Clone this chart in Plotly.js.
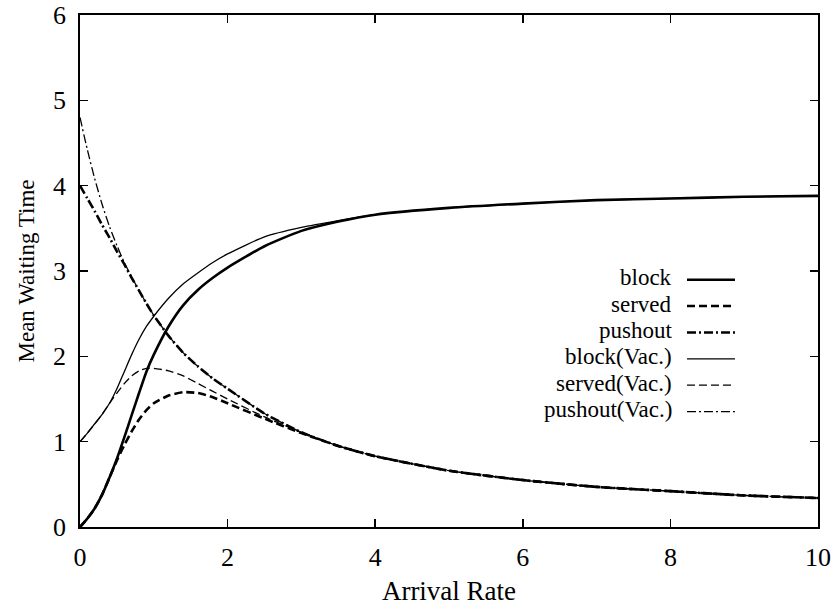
<!DOCTYPE html>
<html>
<head>
<meta charset="utf-8">
<script src="https://cdn.plot.ly/plotly-3.0.1.min.js"></script>
<style>html,body{margin:0;padding:0;background:#fff;}#chart{width:837px;height:611px;}</style>
</head>
<body>
<div id="chart"></div>
<script>
const arrivalRate = [0, 0.1, 0.2, 0.3, 0.4, 0.5, 0.6, 0.7, 0.8, 0.9, 1.0, 1.2, 1.4, 1.6, 1.8, 2.0, 2.5, 3.0, 3.5, 4, 5, 6, 7, 8, 9, 10];

const block        = [0, 0.10, 0.22, 0.38, 0.58, 0.80, 1.05, 1.31, 1.57, 1.82, 2.02, 2.35, 2.60, 2.78, 2.92, 3.04, 3.29, 3.47, 3.58, 3.66, 3.74, 3.79, 3.83, 3.85, 3.87, 3.88];
const served       = [0, 0.10, 0.22, 0.38, 0.58, 0.78, 0.96, 1.12, 1.26, 1.37, 1.45, 1.54, 1.58, 1.57, 1.52, 1.45, 1.27, 1.10, 0.95, 0.83, 0.66, 0.55, 0.47, 0.42, 0.37, 0.34];
const pushout      = [4.00, 3.85, 3.70, 3.54, 3.39, 3.23, 3.08, 2.92, 2.77, 2.62, 2.48, 2.24, 2.04, 1.88, 1.74, 1.62, 1.33, 1.11, 0.95, 0.83, 0.66, 0.55, 0.47, 0.42, 0.37, 0.34];
const blockVac     = [1.00, 1.10, 1.21, 1.32, 1.45, 1.62, 1.82, 2.02, 2.20, 2.35, 2.47, 2.68, 2.85, 2.98, 3.10, 3.20, 3.40, 3.51, 3.59, 3.66, 3.74, 3.79, 3.83, 3.85, 3.87, 3.88];
const servedVac    = [1.00, 1.10, 1.21, 1.32, 1.45, 1.57, 1.68, 1.77, 1.83, 1.86, 1.86, 1.83, 1.77, 1.68, 1.59, 1.50, 1.29, 1.11, 0.95, 0.83, 0.66, 0.55, 0.47, 0.42, 0.37, 0.34];
const pushoutVac   = [4.80, 4.42, 4.08, 3.78, 3.52, 3.30, 3.10, 2.93, 2.77, 2.62, 2.48, 2.24, 2.04, 1.88, 1.74, 1.62, 1.33, 1.11, 0.95, 0.83, 0.66, 0.55, 0.47, 0.42, 0.37, 0.34];

const seriesNames = ["block", "served", "pushout", "block(Vac.)", "served(Vac.)", "pushout(Vac.)"];
const seriesData = [block, served, pushout, blockVac, servedVac, pushoutVac];
const xTicks = [0, 2, 4, 6, 8, 10];
const yTicks = [0, 1, 2, 3, 4, 5, 6];

const styles = [
  {width: 2.6, dash: "solid"},
  {width: 2.6, dash: "8px,4px"},
  {width: 2.6, dash: "9px,3px,2px,3px"},
  {width: 1.3, dash: "solid"},
  {width: 1.3, dash: "8px,4px"},
  {width: 1.3, dash: "9px,3px,2px,3px"}
];

const FONT = "Liberation Serif";

const traces = seriesData.map((ys, i) => ({
  x: arrivalRate, y: ys, type: "scatter", mode: "lines", name: seriesNames[i],
  line: {color: "#000", width: styles[i].width, dash: styles[i].dash, shape: "spline", smoothing: 0.6},
  showlegend: false, hoverinfo: "skip"
}));

// manual legend: text on the left, line sample on the right
const legTextX = 0.803, legLine0 = 0.8225, legLine1 = 0.8875;
const legY = [0.487, 0.4355, 0.384, 0.3325, 0.281, 0.2295];
const annotations = seriesNames.map((n, i) => ({
  xref: "paper", yref: "paper", x: legTextX, y: legY[i], xanchor: "right", yanchor: "middle",
  text: n, showarrow: false, borderpad: 0, font: {family: FONT, size: 23, color: "#000"}
}));
const shapes = seriesNames.map((n, i) => ({
  type: "line", xref: "paper", yref: "paper", x0: legLine0, x1: legLine1, y0: legY[i] - 0.004, y1: legY[i] - 0.004,
  line: {color: "#000", width: styles[i].width, dash: styles[i].dash}
}));

const layout = {
  width: 837, height: 611,
  margin: {l: 80, r: 19, t: 15, b: 83.5},
  paper_bgcolor: "#fff", plot_bgcolor: "#fff",
  font: {family: FONT, color: "#000", size: 24},
  xaxis: {
    range: [0, 10], tickvals: xTicks, ticktext: xTicks.map(String),
    ticks: "inside", ticklen: 8, tickwidth: 1.5, tickcolor: "#000",
    showline: true, linewidth: 1.8, linecolor: "#000", mirror: "ticks",
    showgrid: false, zeroline: false, ticklabelstandoff: 6,
    tickfont: {family: FONT, size: 26},
    title: {text: "Arrival Rate", font: {family: FONT, size: 27}, standoff: 10}
  },
  yaxis: {
    range: [0, 6], tickvals: yTicks, ticktext: yTicks.map(String),
    ticks: "inside", ticklen: 8, tickwidth: 1.5, tickcolor: "#000",
    showline: true, linewidth: 1.8, linecolor: "#000", mirror: "ticks",
    showgrid: false, zeroline: false, ticklabelstandoff: 7,
    tickfont: {family: FONT, size: 26},
    title: {text: "Mean Waiting Time", font: {family: FONT, size: 23}, standoff: 12}
  },
  annotations: annotations,
  shapes: shapes
};

Plotly.newPlot("chart", traces, layout, {staticPlot: true, displayModeBar: false});
</script>
</body>
</html>
